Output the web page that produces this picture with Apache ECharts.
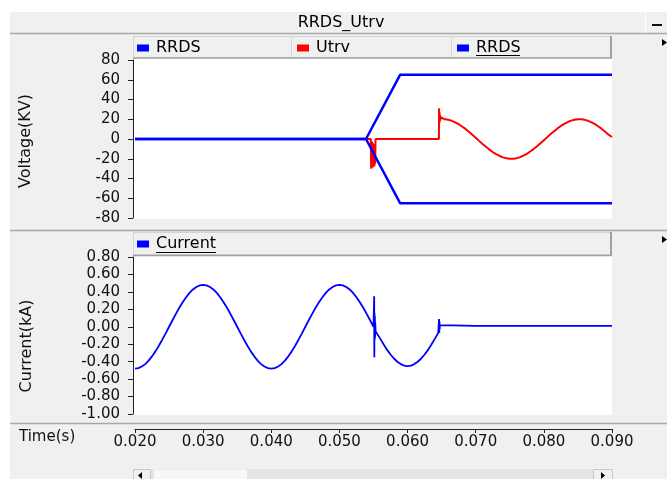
<!DOCTYPE html>
<html><head><meta charset="utf-8">
<script src="https://cdn.jsdelivr.net/npm/echarts@6/dist/echarts.min.js"></script>
<style>html,body{margin:0;padding:0;background:#fff;}#c{width:667px;height:479px;}</style>
</head><body><div id="c"></div>
<script>
const chartTitle = 'RRDS_Utrv';
const voltageName = 'Voltage(KV)';
const currentName = 'Current(kA)';
const timeName = 'Time(s)';
const timeRange = [0.02, 0.09, 0.01];
const voltageRange = [-80, 80, 20];
const currentRange = [-1.0, 0.8, 0.2];

const rrdsTime  = [0.0200, 0.0539, 0.0589, 0.0900];
const rrdsUpper = [0, 0, 65, 65];
const rrdsLower = [0, 0, -65, -65];

const utrvTime = [0.0200, 0.0546, 0.05465, 0.0547, 0.05475, 0.0548, 0.05485, 0.0549, 0.05495, 0.0550,
  0.05505, 0.0551, 0.05515, 0.0552, 0.05525, 0.0553, 0.0646, 0.06462, 0.06466, 0.0647,
  0.06474, 0.06478, 0.06482, 0.06486, 0.0649,
  0.0650,0.0655,0.0660,0.0665,0.0670,0.0675,0.0680,0.0685,0.0690,0.0695,
  0.0700,0.0705,0.0710,0.0715,0.0720,0.0725,0.0730,0.0735,0.0740,0.0745,
  0.0750,0.0755,0.0760,0.0765,0.0770,0.0775,0.0780,0.0785,0.0790,0.0795,
  0.0800,0.0805,0.0810,0.0815,0.0820,0.0825,0.0830,0.0835,0.0840,0.0845,
  0.0850,0.0855,0.0860,0.0865,0.0870,0.0875,0.0880,0.0885,0.0890,0.0895,
  0.0900];
const utrvValue = [0, 0, -30, -2, -29, -3, -29, -4, -28, -5,
  -28, -6, -27, -8, -25, 0, 0, 31, 16, 27,
  18, 24, 19, 22, 20.5,
  20.0,19.9,19.4,18.4,16.9,15.0,12.7,10.2,7.4,4.4,
  1.3,-1.9,-5.0,-7.9,-10.7,-13.2,-15.4,-17.2,-18.6,-19.5,
  -20.0,-19.9,-19.4,-18.4,-16.9,-15.0,-12.7,-10.2,-7.4,-4.4,
  -1.3,1.9,5.0,7.9,10.7,13.2,15.4,17.2,18.6,19.5,
  20.0,19.9,19.4,18.4,16.9,15.0,12.7,10.2,7.4,4.4,
  2.0];

const currentTime = [
  0.0200,0.0205,0.0210,0.0215,0.0220,0.0225,0.0230,0.0235,0.0240,0.0245,
  0.0250,0.0255,0.0260,0.0265,0.0270,0.0275,0.0280,0.0285,0.0290,0.0295,
  0.0300,0.0305,0.0310,0.0315,0.0320,0.0325,0.0330,0.0335,0.0340,0.0345,
  0.0350,0.0355,0.0360,0.0365,0.0370,0.0375,0.0380,0.0385,0.0390,0.0395,
  0.0400,0.0405,0.0410,0.0415,0.0420,0.0425,0.0430,0.0435,0.0440,0.0445,
  0.0450,0.0455,0.0460,0.0465,0.0470,0.0475,0.0480,0.0485,0.0490,0.0495,
  0.0500,0.0505,0.0510,0.0515,0.0520,0.0525,0.0530,0.0535,0.0540,0.0545,
  0.0550,
  0.05505,0.0551,0.05512,0.05515,0.05518,0.0552,0.05523,0.05526,0.0553,
  0.0555,0.0560,0.0565,0.0570,0.0575,0.0580,0.0585,0.0590,0.0595,0.0600,
  0.0605,0.0610,0.0615,0.0620,0.0625,0.0630,0.0635,0.0640,0.0645,
  0.06462,0.06465,0.06468,0.06471,0.06474,0.06477,0.0650,0.0700,0.0800,0.0900];
const currentValue = [
  -0.480,-0.474,-0.456,-0.428,-0.388,-0.339,-0.282,-0.218,-0.148,-0.075,
  0.000,0.075,0.148,0.218,0.282,0.339,0.388,0.428,0.456,0.474,
  0.480,0.474,0.456,0.428,0.388,0.339,0.282,0.218,0.148,0.075,
  0.000,-0.075,-0.148,-0.218,-0.282,-0.339,-0.388,-0.428,-0.456,-0.474,
  -0.480,-0.474,-0.456,-0.428,-0.388,-0.339,-0.282,-0.218,-0.148,-0.075,
  0.000,0.075,0.148,0.218,0.282,0.339,0.388,0.428,0.456,0.474,
  0.480,0.474,0.456,0.428,0.388,0.339,0.282,0.218,0.148,0.075,
  0.000,
  -0.01,0.35,-0.35,0.16,-0.15,0.12,-0.12,0.05,-0.05,
  -0.070,-0.139,-0.204,-0.265,-0.318,-0.364,-0.401,-0.428,-0.445,-0.450,
  -0.445,-0.428,-0.401,-0.364,-0.318,-0.265,-0.204,-0.139,-0.070,
  0.09,-0.07,0.06,-0.03,0.02,0.01,0.01,0.01,0.01,0.01];

const zip = (xs, ys) => xs.map((x, i) => [x, ys[i]]);
const FONT = 'DejaVu Sans';
const BLUE = '#0000ff', RED = '#ff0000';

const chart = echarts.init(document.getElementById('c'), null, {renderer: 'canvas'});

const legendBase = {
  orient: 'horizontal', padding: 0, icon: 'rect', itemWidth: 12, itemHeight: 7,
  selectedMode: false,
  textStyle: {fontFamily: FONT, fontSize: 16, color: '#000', padding: [0, 0, 0, 2]}
};

const yAxisBase = {
  type: 'value', offset: 2,
  axisLine: {show: true, onZero: false, lineStyle: {color: '#222', width: 1}},
  axisTick: {show: true, inside: false, length: 5, lineStyle: {color: '#222'}},
  axisLabel: {fontFamily: FONT, fontSize: 15, color: '#111', margin: 13},
  splitLine: {show: false}
};

function line(x1, y1, x2, y2, color, w) {
  return {type: 'line', z: 50, silent: true, shape: {x1, y1, x2, y2}, style: {stroke: color, lineWidth: w || 1}};
}
function rect(x, y, w, h, fill, stroke, z) {
  return {type: 'rect', z: z == null ? -10 : z, silent: true, shape: {x, y, width: w, height: h},
    style: {fill: fill, stroke: stroke || null, lineWidth: 1}};
}

const graphics = [
  rect(0, 0, 667, 12, '#ffffff'),
  rect(0, 0, 10, 479, '#ffffff'),
  rect(133, 58, 479, 161, '#ffffff'),
  rect(133, 256, 479, 159, '#ffffff'),
  rect(133.5, 36.5, 158, 21, '#f0f0f0', '#d4d4d4', 1),
  rect(291.5, 36.5, 160, 21, '#f0f0f0', '#d4d4d4', 1),
  rect(451.5, 36.5, 160, 21, '#f0f0f0', '#d4d4d4', 1),
  line(611, 36, 611, 58, '#a0a0a0', 2),
  line(133, 58, 612, 58, '#a0a0a0', 1.5),
  rect(133.5, 232.5, 478, 22, '#f0f0f0', '#d4d4d4', 1),
  line(611, 232, 611, 256, '#a0a0a0', 2),
  line(133, 255.5, 612, 255.5, '#a0a0a0', 1.5),
  line(10, 33.5, 667, 33.5, '#a8a8a8', 1.5),
  line(645.5, 12, 645.5, 33, '#ffffff', 1),
  line(10, 230.5, 667, 230.5, '#a8a8a8', 1.5),
  line(10, 423.5, 667, 423.5, '#a8a8a8', 1.5),
  {type: 'rect', z: 50, silent: true, shape: {x: 652, y: 24, width: 10, height: 2}, style: {fill: '#111'}},
  {type: 'polygon', z: 50, silent: true, shape: {points: [[662, 39], [667, 42.5], [662, 46]]}, style: {fill: '#000'}},
  {type: 'polygon', z: 50, silent: true, shape: {points: [[662, 236], [667, 239.5], [662, 243]]}, style: {fill: '#000'}},
  {type: 'text', z: 50, silent: true, x: 341, y: 22.5,
    style: {text: chartTitle, fontFamily: FONT, fontSize: 16, fill: '#000', align: 'center', verticalAlign: 'middle'}},
  {type: 'text', z: 50, silent: true, x: 26, y: 141, rotation: Math.PI / 2,
    style: {text: voltageName, fontFamily: FONT, fontSize: 16, fill: '#111', align: 'center', verticalAlign: 'middle'}},
  {type: 'text', z: 50, silent: true, x: 27, y: 346, rotation: Math.PI / 2,
    style: {text: currentName, fontFamily: FONT, fontSize: 16, fill: '#111', align: 'center', verticalAlign: 'middle'}},
  {type: 'text', z: 50, silent: true, x: 19, y: 437,
    style: {text: timeName, fontFamily: FONT, fontSize: 15, fill: '#111', align: 'left', verticalAlign: 'middle'}},
  line(476, 55.5, 520, 55.5, '#000', 1),
  line(156, 252.5, 216, 252.5, '#000', 1),
  rect(151, 469, 442, 10, '#e4e4e4', null, 1),
  rect(154, 469.5, 93, 9.5, '#f7f7f7', null, 2),
  rect(133.5, 469.5, 17, 10, '#f0f0f0', '#c8c8c8', 3),
  rect(593.5, 469.5, 19, 10, '#f0f0f0', '#c8c8c8', 3),
  {type: 'polygon', z: 50, silent: true, shape: {points: [[142, 472], [138, 475.5], [142, 479]]}, style: {fill: '#000'}},
  {type: 'polygon', z: 50, silent: true, shape: {points: [[601, 472], [605, 475.5], [601, 479]]}, style: {fill: '#000'}}
];

const option = {
  backgroundColor: '#f0f0f0',
  animation: false,
  legend: [
    Object.assign({data: ['RRDS'], left: 137, top: 40}, legendBase),
    Object.assign({data: ['Utrv'], left: 297, top: 40}, legendBase),
    Object.assign({data: ['RRDS'], left: 457, top: 40}, legendBase),
    Object.assign({data: ['Current'], left: 137, top: 236}, legendBase)
  ],
  grid: [
    {left: 135, width: 477, top: 60, height: 158, show: false},
    {left: 135, width: 477, top: 257, height: 157, show: false}
  ],
  xAxis: [
    {type: 'value', gridIndex: 0, min: timeRange[0], max: timeRange[1], interval: timeRange[2], show: false},
    {type: 'value', gridIndex: 1, min: timeRange[0], max: timeRange[1], interval: timeRange[2],
      position: 'bottom', offset: 15,
      axisLine: {show: true, onZero: false, lineStyle: {color: '#222', width: 1}},
      axisTick: {show: true, inside: false, length: 4, lineStyle: {color: '#222'}},
      axisLabel: {fontFamily: FONT, fontSize: 15, color: '#111', margin: 6,
        formatter: v => v.toFixed(3)},
      splitLine: {show: false}}
  ],
  yAxis: [
    Object.assign({}, yAxisBase, {gridIndex: 0, min: voltageRange[0], max: voltageRange[1], interval: voltageRange[2],
      axisLabel: Object.assign({}, yAxisBase.axisLabel, {formatter: v => String(Math.round(v))})}),
    Object.assign({}, yAxisBase, {gridIndex: 1, min: currentRange[0], max: currentRange[1], interval: currentRange[2],
      axisLabel: Object.assign({}, yAxisBase.axisLabel, {formatter: v => v.toFixed(2)})})
  ],
  series: [
    {name: 'RRDS', type: 'line', xAxisIndex: 0, yAxisIndex: 0, data: zip(rrdsTime, rrdsUpper),
      showSymbol: false, color: BLUE, lineStyle: {width: 2.5, color: BLUE}},
    {name: 'Utrv', type: 'line', xAxisIndex: 0, yAxisIndex: 0, data: zip(utrvTime, utrvValue),
      showSymbol: false, color: RED, lineStyle: {width: 2, color: RED}},
    {name: 'RRDS', type: 'line', xAxisIndex: 0, yAxisIndex: 0, data: zip(rrdsTime, rrdsLower),
      showSymbol: false, color: BLUE, lineStyle: {width: 2.5, color: BLUE}},
    {name: 'Current', type: 'line', xAxisIndex: 1, yAxisIndex: 1, data: zip(currentTime, currentValue),
      showSymbol: false, sampling: null, color: BLUE, lineStyle: {width: 1.8, color: BLUE}}
  ],
  graphic: graphics
};
chart.setOption(option);
</script>
</body></html>
